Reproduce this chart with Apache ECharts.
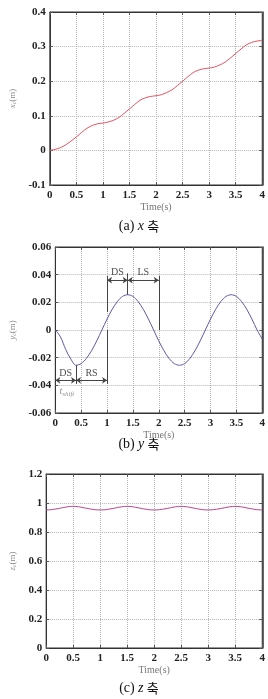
<!DOCTYPE html>
<html>
<head>
<meta charset="utf-8">
<script src="https://cdn.jsdelivr.net/npm/echarts@6/dist/echarts.min.js"></script>
<style>html,body{margin:0;padding:0;background:#fff;}#c{width:268px;height:699px;}</style>
</head>
<body>
<div id="c"></div>
<script>
// ---- data ----
const timeS = [0,0.1,0.2,0.3,0.4,0.5,0.6,0.7,0.8,0.9,1.0,1.1,1.2,1.3,1.4,1.5,1.6,1.7,1.8,1.9,2.0,2.1,2.2,2.3,2.4,2.5,2.6,2.7,2.8,2.9,3.0,3.1,3.2,3.3,3.4,3.5,3.6,3.7,3.8,3.9,4.0];
const xc = [0,0.003,0.008,0.016,0.027,0.039,0.052,0.064,0.072,0.077,0.079,
            0.082,0.087,0.095,0.107,0.120,0.133,0.145,0.152,0.156,0.158,
            0.161,0.167,0.175,0.187,0.200,0.213,0.225,0.232,0.236,0.238,
            0.241,0.247,0.255,0.267,0.280,0.293,0.305,0.312,0.316,0.318];
const yc = [0,-0.005,-0.014,-0.021,-0.0255,-0.0243,-0.0206,-0.0150,-0.0079,0,0.0079,
            0.0150,0.0206,0.0243,0.0255,0.0243,0.0206,0.0150,0.0079,0,-0.0079,
            -0.0150,-0.0206,-0.0243,-0.0255,-0.0243,-0.0206,-0.0150,-0.0079,0,0.0079,
            0.0150,0.0206,0.0243,0.0255,0.0243,0.0206,0.0150,0.0079,0,-0.0065];
const zc = [0.952,0.954,0.960,0.967,0.974,0.977,0.974,0.967,0.960,0.954,0.952,
            0.954,0.960,0.967,0.974,0.977,0.974,0.967,0.960,0.954,0.952,
            0.954,0.960,0.967,0.974,0.977,0.974,0.967,0.960,0.954,0.952,
            0.954,0.960,0.967,0.974,0.977,0.974,0.967,0.960,0.954,0.952];
const xTicks = {min:0, max:4, interval:0.5};
const yRanges = [{min:-0.1,max:0.4,interval:0.1},{min:-0.06,max:0.06,interval:0.02},{min:0,max:1.2,interval:0.2}];
// annotations on y panel: [t1,y1,t2,y2]
const annotVLines = [[1,0.039,1,0.013],[1,0,1,-0.039],[1.4,0.041,1.4,0.0255],[2,0.039,2,0],[0.4,-0.0255,0.4,-0.039]];
const annotArrows = [[1,0.036,1.4,0.036],[1.4,0.036,2,0.036],[0,-0.0364,0.4,-0.0364],[0.4,-0.0364,1,-0.0364]];
const annotLabels = [['DS',1.2,0.0415],['LS',1.7,0.0415],['DS',0.2,-0.0315],['RS',0.7,-0.0315]];
const tShiftPos = [0.08,-0.0445];
const captions = [['(a)','x'],['(b)','y'],['(c)','z']];
const yNames = ['x','y','z'];

// ---- layout ----
const grids = [
  {left:44, top:12, width:220, height:173},
  {left:53, top:247, width:211, height:166},
  {left:44, top:474, width:220, height:174}
];
const captionY = [226, 444, 688];
const lineColors = ['#e2535d','#5b5aa6','#b8458f'];
const SERIF = "'Liberation Serif', 'DejaVu Serif', serif";

const xAxes = [], yAxes = [];
grids.forEach((g,i)=>{
  xAxes.push({
    gridIndex:i, type:'value', min:xTicks.min, max:xTicks.max, interval:xTicks.interval,
    name:'Time(s)', nameLocation:'middle', nameGap:17,
    nameTextStyle:{fontFamily:SERIF, fontSize:10, color:'#777'},
    axisLine:{show:true, onZero:false, lineStyle:{color:'#333', width:1}},
    axisTick:{show:true, inside:true, length:3, lineStyle:{color:'#555'}},
    axisLabel:{fontFamily:SERIF, fontWeight:'bold', fontSize:11, color:'#222', margin:5},
    splitLine:{show:true, lineStyle:{type:'dotted', color:'#b5b5b5', width:1}}
  });
  xAxes.push({
    gridIndex:i, type:'value', position:'top', min:xTicks.min, max:xTicks.max, interval:xTicks.interval,
    axisLine:{show:true, onZero:false, lineStyle:{color:'#333', width:1}},
    axisTick:{show:true, inside:true, length:3, lineStyle:{color:'#555'}},
    axisLabel:{show:false}, splitLine:{show:false}
  });
  const r = yRanges[i];
  yAxes.push({
    gridIndex:i, type:'value', min:r.min, max:r.max, interval:r.interval,
    name:'{i|'+yNames[i]+'}{s|c}(m)', nameLocation:'middle', nameGap: i===1?30:28,
    nameTextStyle:{fontFamily:SERIF, fontSize:9, color:'#888',
      rich:{i:{fontFamily:SERIF, fontStyle:'italic', fontSize:9, color:'#888'},
            s:{fontFamily:SERIF, fontStyle:'italic', fontSize:6, color:'#888', verticalAlign:'bottom', padding:[4,0,0,0]}}},
    axisLine:{show:true, onZero:false, lineStyle:{color:'#333', width:1}},
    axisTick:{show:true, inside:true, length:3, lineStyle:{color:'#555'}},
    axisLabel:{fontFamily:SERIF, fontWeight:'bold', fontSize:11, color:'#222', margin:4},
    splitLine:{show:true, lineStyle:{type:'dotted', color:'#b5b5b5', width:1}}
  });
  yAxes.push({
    gridIndex:i, type:'value', position:'right', min:r.min, max:r.max, interval:r.interval,
    axisLine:{show:true, onZero:false, lineStyle:{color:'#333', width:1.5}},
    axisTick:{show:true, inside:true, length:3, lineStyle:{color:'#555'}},
    axisLabel:{show:false}, splitLine:{show:false}
  });
});

const dataSets = [xc, yc, zc];
const series = dataSets.map((d,i)=>({
  type:'line', xAxisIndex:i*2, yAxisIndex:i*2, smooth:0.3, showSymbol:false,
  lineStyle:{color:lineColors[i], width:1}, z:3,
  data: timeS.map((t,k)=>[t,d[k]])
}));
series.push({
  type:'lines', coordinateSystem:'cartesian2d', xAxisIndex:2, yAxisIndex:2, z:4,
  symbol:'none', lineStyle:{color:'#444', width:1, opacity:1},
  data: annotVLines.map(a=>({coords:[[a[0],a[1]],[a[2],a[3]]]}))
});
series.push({
  type:'lines', coordinateSystem:'cartesian2d', xAxisIndex:2, yAxisIndex:2, z:4,
  symbol:['arrow','arrow'], symbolSize:5, lineStyle:{color:'#444', width:1, opacity:1},
  data: annotArrows.map(a=>({coords:[[a[0],a[1]],[a[2],a[3]]]}))
});
series.push({
  type:'scatter', xAxisIndex:2, yAxisIndex:2, symbolSize:0, z:5,
  label:{show:true, position:'inside', formatter:'{b}', fontFamily:SERIF, fontSize:10, color:'#222'},
  data: annotLabels.map(a=>({name:a[0], value:[a[1],a[2]]}))
});
series.push({
  type:'scatter', xAxisIndex:2, yAxisIndex:2, symbolSize:0, z:5,
  label:{show:true, position:'right', distance:0, formatter:'{i|t}{s|shift}',
    rich:{i:{fontFamily:SERIF, fontStyle:'italic', fontSize:10, color:'#777'},
          s:{fontFamily:SERIF, fontStyle:'italic', fontSize:7, color:'#777', padding:[5,0,0,0]}}},
  data:[{value:tShiftPos}]
});

const graphic = captions.map((c,i)=>({
  type:'text', x:139, y:captionY[i],
  style:{text:'{a|'+c[0]+'} {i|'+c[1]+'} {k|축}', align:'center', verticalAlign:'middle',
    rich:{a:{fontFamily:SERIF, fontSize:14, fill:'#111'},
          i:{fontFamily:SERIF, fontStyle:'italic', fontSize:14, fill:'#111'},
          k:{fontFamily:"'Noto Sans CJK KR'", fontSize:13, fill:'#111'}}}
}));

const chart = echarts.init(document.getElementById('c'), null, {renderer:'canvas'});
chart.setOption({
  animation:false,
  backgroundColor:'#fff',
  grid: grids.map(g=>Object.assign({show:true, borderColor:'#333', borderWidth:1, backgroundColor:'#fff'}, g)),
  xAxis:xAxes, yAxis:yAxes, series:series, graphic:graphic
});
</script>
</body>
</html>
